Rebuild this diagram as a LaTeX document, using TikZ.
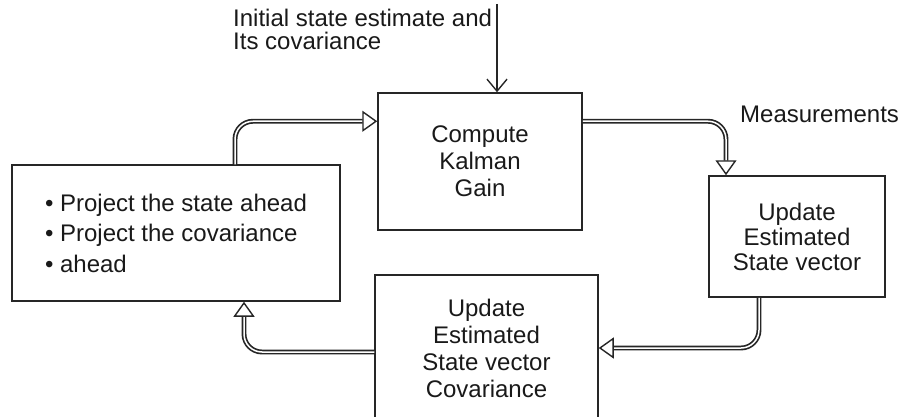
\documentclass[tikz,border=0pt]{standalone}
\usepackage{fontspec}
\setmainfont{Liberation Sans}
\usetikzlibrary{arrows.meta}
\tikzset{
  box/.style={draw=black!85, line width=1.5pt, inner sep=0pt, align=center, text=black!90},
  dbl/.style={draw=black!85, line width=1.7pt, double=white, double distance=1.5pt, rounded corners=18pt,
    -{Triangle[open, length=15pt, width=21pt, line width=1.4pt]}},
  txt/.style={inner sep=0pt, text=black!90, font=\fontsize{24}{24}\selectfont},
}
\begin{document}
\begin{tikzpicture}[x=1pt,y=-1pt]
\useasboundingbox (0,0) rectangle (899,417);
\clip (0,0) rectangle (899,417);
\node[box, minimum width=204pt, minimum height=137pt, font=\fontsize{24}{27}\selectfont] (C) at (480,161.5) {Compute\\Kalman\\Gain};
\node[box, minimum width=176pt, minimum height=121pt, font=\fontsize{24}{25}\selectfont] (R) at (797,236.5) {Update\\Estimated\\State vector};
\node[box, minimum width=223pt, minimum height=146pt, font=\fontsize{24}{27}\selectfont] (B) at (486.5,348) {Update\\Estimated\\State vector\\Covariance};
\node[box, minimum width=328pt, minimum height=136pt, align=left, font=\fontsize{24}{30.5}\selectfont] (L) at (176,233) {•\ Project the state ahead\\•\ Project the covariance\\•\ ahead};
\node[txt, anchor=base west] (t1) at (233,27) {Initial state estimate and};
\node[txt, anchor=base west] (t2) at (233,50) {Its covariance};
\node[txt, anchor=base west] (m) at (740,123) {Measurements};
\coordinate (top) at (497,4);
\draw[draw=black!85, line width=1.4pt, -{Straight Barb[length=12pt, width=20pt, line width=1.4pt]}] (top) -- ([xshift=17pt]C.north);
\draw[dbl] ([xshift=59pt]L.north) |- ([yshift=-29pt]C.north west);
\draw[dbl] ([yshift=-29pt]C.north east) -| ([xshift=-71pt]R.north);
\draw[dbl] ([xshift=-38pt]R.south) |- (B.east);
\draw[dbl] ([yshift=-4pt]B.west) -| ([xshift=68pt]L.south);
\end{tikzpicture}
\end{document}
